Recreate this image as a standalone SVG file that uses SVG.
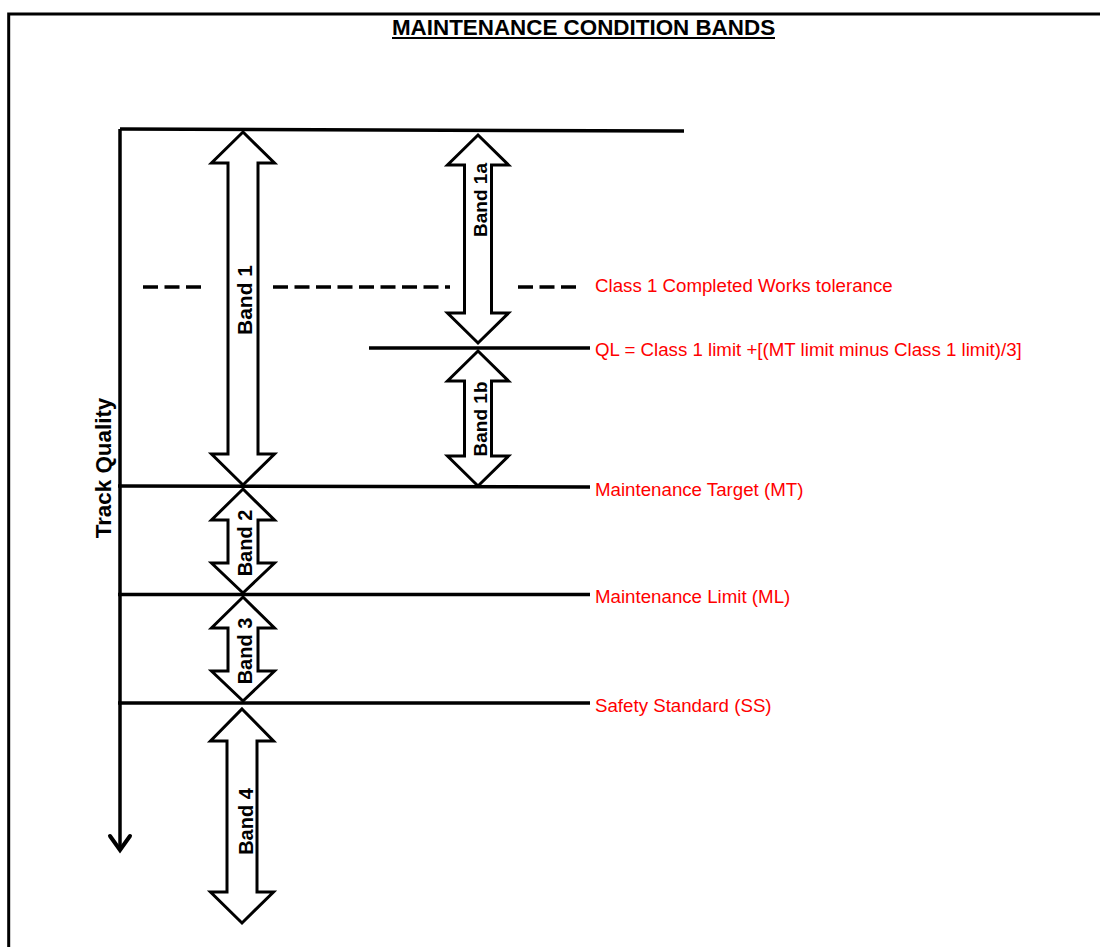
<svg xmlns="http://www.w3.org/2000/svg" width="1100" height="947" viewBox="0 0 1100 947">
<style>
.ln{stroke:#000;stroke-width:3.5;fill:none}
.arr{fill:#fff;stroke:#000;stroke-width:3;stroke-linejoin:miter}
.lbl{font-family:"Liberation Sans",Arial,sans-serif;font-size:18.7px;fill:#ff0000}
.band{font-family:"Liberation Sans",Arial,sans-serif;font-weight:bold;fill:#000;text-anchor:middle}
.ttl{font-family:"Liberation Sans",Arial,sans-serif;font-weight:bold;font-size:22.4px;fill:#000;text-anchor:middle}
</style>
<rect width="1100" height="947" fill="#fff"/>
<path d="M8.7,950 V14 H1102" fill="none" stroke="#000" stroke-width="3"/>
<g id="title">
<text class="ttl" x="583.5" y="35">MAINTENANCE CONDITION BANDS</text>
<line x1="392" y1="38" x2="775" y2="38" stroke="#000" stroke-width="2"/>
</g>
<g id="connectors">
<line class="ln" x1="120" y1="129" x2="120" y2="850" stroke-width="4"/>
<polyline points="110,836 120,850 130,836" fill="none" stroke="#000" stroke-width="4" stroke-linecap="round"/>
<line class="ln" x1="120" y1="129" x2="684" y2="131" stroke-width="4"/>
<line class="ln" x1="369" y1="348" x2="590" y2="348"/>
<line class="ln" x1="118" y1="486" x2="590" y2="487"/>
<line class="ln" x1="118" y1="594.5" x2="590" y2="594.5"/>
<line class="ln" x1="118" y1="703" x2="590" y2="703"/>
<g stroke="#000" stroke-width="3.5" stroke-dasharray="15 6.5" fill="none">
<line x1="143" y1="287" x2="206" y2="287"/>
<line x1="273" y1="287" x2="450" y2="287"/>
<line x1="518" y1="287" x2="582" y2="287"/>
</g>
</g>
<g id="band1">
<polygon class="arr" points="243,132 274.5,163 258,163 258,454 274.5,454 243,485 211.5,454 228,454 228,163 211.5,163"/>
<text class="band" font-size="21px" transform="translate(252,300) rotate(-90)">Band 1</text>
</g>
<g id="band1a">
<polygon class="arr" points="478,135 508.5,165 491.5,165 491.5,313 508.5,313 478,343 447.5,313 464.5,313 464.5,165 447.5,165"/>
<text class="band" font-size="19px" transform="translate(487,200) rotate(-90)">Band 1a</text>
</g>
<g id="band1b">
<polygon class="arr" points="478,351 508.5,381 491.5,381 491.5,456 508.5,456 478,486 447.5,456 464.5,456 464.5,381 447.5,381"/>
<text class="band" font-size="19px" transform="translate(487,419) rotate(-90)">Band 1b</text>
</g>
<g id="band2">
<polygon class="arr" points="243,489 274.5,520 258,520 258,563 274.5,563 243,593 211.5,563 228,563 228,520 211.5,520"/>
<text class="band" font-size="20px" transform="translate(252,543) rotate(-90)">Band 2</text>
</g>
<g id="band3">
<polygon class="arr" points="243,597 274.5,628 258,628 258,671 274.5,671 243,701 211.5,671 228,671 228,628 211.5,628"/>
<text class="band" font-size="20px" transform="translate(252,651) rotate(-90)">Band 3</text>
</g>
<g id="band4">
<polygon class="arr" points="242,709 273.5,741 257,741 257,892 273.5,892 242,923 210.5,892 227,892 227,741 210.5,741"/>
<text class="band" font-size="20px" transform="translate(253,821.5) rotate(-90)">Band 4</text>
</g>
<g id="axis-label">
<text class="ttl" transform="translate(111,468) rotate(-90)">Track Quality</text>
</g>
<g id="labels">
<text class="lbl" x="595" y="292">Class 1 Completed Works tolerance</text>
<text class="lbl" x="595" y="355.5">QL = Class 1 limit +[(MT limit minus Class 1 limit)/3]</text>
<text class="lbl" x="595" y="496">Maintenance Target (MT)</text>
<text class="lbl" x="595" y="603">Maintenance Limit (ML)</text>
<text class="lbl" x="595" y="712">Safety Standard (SS)</text>
</g>
</svg>
